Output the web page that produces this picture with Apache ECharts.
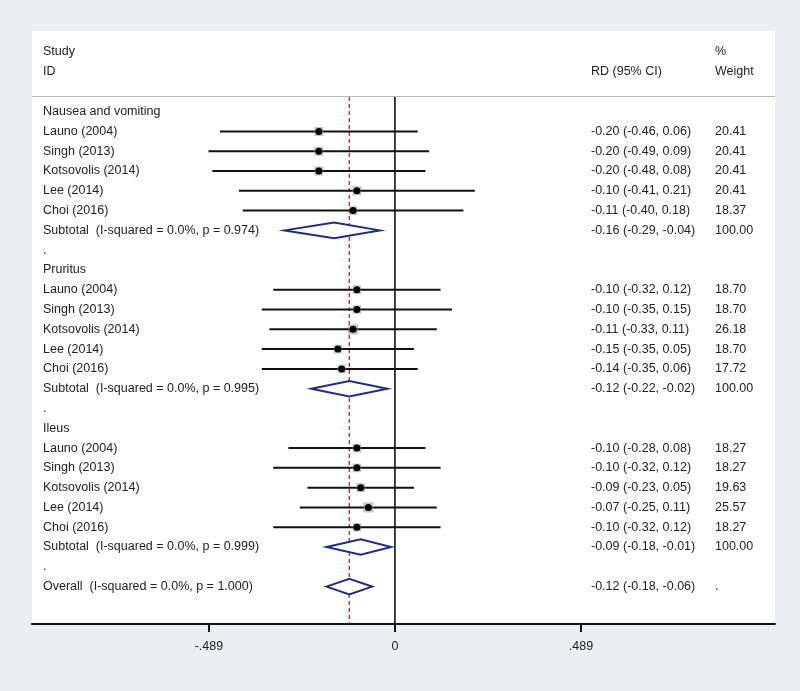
<!DOCTYPE html>
<html><head><meta charset="utf-8">
<script src="https://cdn.jsdelivr.net/npm/echarts@6/dist/echarts.min.js"></script>
<style>html,body{margin:0;padding:0;background:#e9eff3}#c{width:800px;height:691px}</style>
</head><body><div id="c"></div>
<script>
// ---- data ----
const groups = ['Nausea and vomiting', 'Pruritus', 'Ileus'];
const studies = ['Launo (2004)', 'Singh (2013)', 'Kotsovolis (2014)', 'Lee (2014)', 'Choi (2016)'];
const nauseaEst = [-0.20, -0.20, -0.20, -0.10, -0.11];
const nauseaLo  = [-0.46, -0.49, -0.48, -0.41, -0.40];
const nauseaHi  = [0.06, 0.09, 0.08, 0.21, 0.18];
const nauseaW   = [20.41, 20.41, 20.41, 20.41, 18.37];
const pruritusEst = [-0.10, -0.10, -0.11, -0.15, -0.14];
const pruritusLo  = [-0.32, -0.35, -0.33, -0.35, -0.35];
const pruritusHi  = [0.12, 0.15, 0.11, 0.05, 0.06];
const pruritusW   = [18.70, 18.70, 26.18, 18.70, 17.72];
const ileusEst = [-0.10, -0.10, -0.09, -0.07, -0.10];
const ileusLo  = [-0.28, -0.32, -0.23, -0.25, -0.32];
const ileusHi  = [0.08, 0.12, 0.05, 0.11, 0.12];
const ileusW   = [18.27, 18.27, 19.63, 25.57, 18.27];
const subEst = [-0.16, -0.12, -0.09];
const subLo  = [-0.29, -0.22, -0.18];
const subHi  = [-0.04, -0.02, -0.01];
const subP   = ['0.974', '0.995', '0.999'];
const overallEst = -0.12, overallLo = -0.18, overallHi = -0.06, overallP = '1.000';
const tickValues = [-0.489, 0, 0.489];
const tickLabels = ['-.489', '0', '.489'];

// ---- build rows ----
const est = [nauseaEst, pruritusEst, ileusEst];
const lo = [nauseaLo, pruritusLo, ileusLo];
const hi = [nauseaHi, pruritusHi, ileusHi];
const wt = [nauseaW, pruritusW, ileusW];
const f2 = v => v.toFixed(2);
const rows = []; // {row, label, type, est, lo, hi, w}
let r = 0;
groups.forEach((g, gi) => {
  rows.push({row: r++, label: g, type: 'head'});
  studies.forEach((s, si) => {
    rows.push({row: r++, label: s, type: 'study', est: est[gi][si], lo: lo[gi][si], hi: hi[gi][si], w: wt[gi][si]});
  });
  rows.push({row: r++, label: 'Subtotal  (I-squared = 0.0%, p = ' + subP[gi] + ')', type: 'sub', est: subEst[gi], lo: subLo[gi], hi: subHi[gi], w: 100});
  rows.push({row: r++, label: '.', type: 'dot'});
});
rows.push({row: r++, label: 'Overall  (I-squared = 0.0%, p = ' + overallP + ')', type: 'overall', est: overallEst, lo: overallLo, hi: overallHi, w: null});

const FONT = '"Liberation Sans", Arial, sans-serif';
const FS = 12.5;
const TXT = '#222';
const COL_LABEL = 43, COL_RD = 591, COL_W = 715;

const chart = echarts.init(document.getElementById('c'), null, {renderer: 'canvas'});

const studyRows = rows.filter(d => d.type === 'study');
const diamondRows = rows.filter(d => d.type === 'sub' || d.type === 'overall');

chart.setOption({
  backgroundColor: '#e9eff3',
  animation: false,
  graphic: [
    {type: 'rect', z: -10, shape: {x: 32, y: 31, width: 743, height: 593}, style: {fill: '#ffffff'}},
    {type: 'line', z: -5, shape: {x1: 32, y1: 96.5, x2: 775, y2: 96.5}, style: {stroke: '#b8b8b8', lineWidth: 1.2}},
    {type: 'text', style: {x: COL_LABEL, y: 52, text: 'Study', font: FS + 'px ' + FONT, fill: TXT, verticalAlign: 'middle'}},
    {type: 'text', style: {x: COL_LABEL, y: 72, text: 'ID', font: FS + 'px ' + FONT, fill: TXT, verticalAlign: 'middle'}},
    {type: 'text', style: {x: COL_RD, y: 72, text: 'RD (95% CI)', font: FS + 'px ' + FONT, fill: TXT, verticalAlign: 'middle'}},
    {type: 'text', style: {x: COL_W, y: 52, text: '%', font: FS + 'px ' + FONT, fill: TXT, verticalAlign: 'middle'}},
    {type: 'text', style: {x: COL_W, y: 72, text: 'Weight', font: FS + 'px ' + FONT, fill: TXT, verticalAlign: 'middle'}}
  ],
  grid: {left: 32, right: 25, top: 97, bottom: 67, containLabel: false},
  xAxis: {
    type: 'value', min: -0.954, max: 0.999,
    splitLine: {show: false},
    axisLine: {show: true, onZero: false, lineStyle: {color: '#111', width: 2}},
    axisTick: {show: true, customValues: tickValues, length: 8, lineStyle: {color: '#111', width: 2}},
    axisLabel: {show: true, customValues: tickValues, margin: 16, fontFamily: FONT, fontSize: FS, color: TXT,
      formatter: v => tickLabels[tickValues.findIndex(t => Math.abs(t - v) < 1e-9)]}
  },
  yAxis: {
    type: 'value', inverse: true, min: -0.74, max: 25.89,
    show: false
  },
  series: [
    {
      type: 'custom', name: 'refs', data: [[0]], z: 1,
      renderItem: (params, api) => {
        const t0 = api.coord([0, -0.74]), b0 = api.coord([0, 25.89]);
        const t1 = api.coord([overallEst, -0.74]), b1 = api.coord([overallEst, 25.89]);
        return {type: 'group', children: [
          {type: 'line', shape: {x1: t0[0], y1: t0[1], x2: b0[0], y2: b0[1]}, style: {stroke: '#111', lineWidth: 1.6}},
          {type: 'line', shape: {x1: t1[0], y1: t1[1], x2: b1[0], y2: b1[1]}, style: {stroke: '#b03a3a', lineWidth: 1.4, lineDash: [4, 3]}}
        ]};
      }
    },
    {
      type: 'custom', name: 'studies', z: 3,
      data: studyRows.map(d => [d.est, d.row, d.lo, d.hi, d.w]),
      renderItem: (params, api) => {
        const e = api.value(0), y = api.value(1), l = api.value(2), h = api.value(3), w = api.value(4);
        const pl = api.coord([l, y]), ph = api.coord([h, y]), pe = api.coord([e, y]);
        const box = Math.sqrt(w) * 2.0;
        return {type: 'group', children: [
          {type: 'line', shape: {x1: pl[0], y1: pl[1], x2: ph[0], y2: ph[1]}, style: {stroke: '#111', lineWidth: 2}},
          {type: 'rect', shape: {x: pe[0] - box / 2, y: pe[1] - box / 2, width: box, height: box}, style: {fill: 'rgba(150,150,150,0.55)'}},
          {type: 'circle', shape: {cx: pe[0], cy: pe[1], r: 3.5}, style: {fill: '#000'}}
        ]};
      }
    },
    {
      type: 'custom', name: 'diamonds', z: 3,
      data: diamondRows.map(d => [d.est, d.row, d.lo, d.hi]),
      renderItem: (params, api) => {
        const e = api.value(0), y = api.value(1), l = api.value(2), h = api.value(3);
        const pl = api.coord([l, y]), ph = api.coord([h, y]), pe = api.coord([e, y]);
        const hh = 7.8;
        return {type: 'polygon', shape: {points: [[pl[0], pl[1]], [pe[0], pe[1] - hh], [ph[0], ph[1]], [pe[0], pe[1] + hh]]},
          style: {fill: '#ffffff', stroke: '#1f2d80', lineWidth: 2}};
      }
    },
    {
      type: 'custom', name: 'table', z: 5,
      data: rows.map((d, i) => [0, d.row, i]),
      renderItem: (params, api) => {
        const d = rows[api.value(2)];
        const y = api.coord([0, d.row])[1];
        const font = FS + 'px ' + FONT;
        const kids = [{type: 'text', style: {x: COL_LABEL, y: y, text: d.label, font: font, fill: TXT, verticalAlign: 'middle'}}];
        if (d.est !== undefined) {
          kids.push({type: 'text', style: {x: COL_RD, y: y, text: f2(d.est) + ' (' + f2(d.lo) + ', ' + f2(d.hi) + ')', font: font, fill: TXT, verticalAlign: 'middle'}});
          kids.push({type: 'text', style: {x: COL_W, y: y, text: d.w === null ? '.' : f2(d.w), font: font, fill: TXT, verticalAlign: 'middle'}});
        }
        return {type: 'group', children: kids};
      }
    }
  ]
});
</script></body></html>
